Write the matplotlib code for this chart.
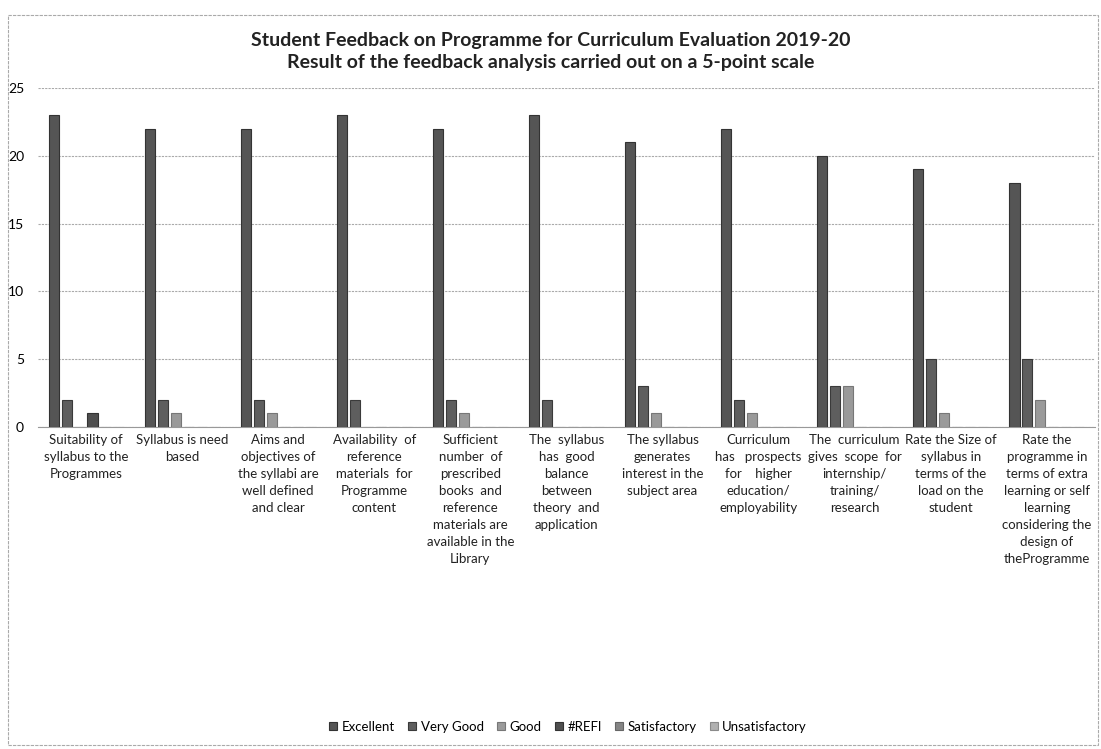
import numpy as np
import matplotlib
matplotlib.use("Agg")
import matplotlib.pyplot as plt
from matplotlib.patches import Rectangle

plt.rcParams["font.family"] = ["Lato", "DejaVu Sans"]

categories = [
    "Suitability of\nsyllabus to the\nProgrammes",
    "Syllabus is need\nbased",
    "Aims and\nobjectives of\nthe syllabi are\nwell defined\nand clear",
    "Availability  of\nreference\nmaterials  for\nProgramme\ncontent",
    "Sufficient\nnumber  of\nprescribed\nbooks  and\nreference\nmaterials are\navailable in the\nLibrary",
    "The  syllabus\nhas  good\nbalance\nbetween\ntheory  and\napplication",
    "The syllabus\ngenerates\ninterest in the\nsubject area",
    "Curriculum\nhas   prospects\nfor    higher\neducation/\nemployability",
    "The  curriculum\ngives  scope  for\ninternship/\ntraining/\nresearch",
    "Rate the Size of\nsyllabus in\nterms of the\nload on the\nstudent",
    "Rate the\nprogramme in\nterms of extra\nlearning or self\nlearning\nconsidering the\ndesign of\ntheProgramme",
]

series_names = ["Excellent", "Very Good", "Good", "#REFl", "Satisfactory", "Unsatisfactory"]
excellent = [23, 22, 22, 23, 22, 23, 21, 22, 20, 19, 18]
very_good = [2, 2, 2, 2, 2, 2, 3, 2, 3, 5, 5]
good = [0, 1, 1, 0, 1, 0, 1, 1, 3, 1, 2]
ref_err = [1, 0, 0, 0, 0, 0, 0, 0, 0, 0, 0]
satisfactory = [0] * 11
unsatisfactory = [0] * 11

values = [excellent, very_good, good, ref_err, satisfactory, unsatisfactory]
colors = ["#555555", "#5e5e5e", "#9a9a9a", "#4f4f4f", "#858585", "#b0b0b0"]
edges = ["#333333", "#3a3a3a", "#777777", "#333333", "#666666", "#8a8a8a"]

fig = plt.figure(figsize=(11.01, 7.49), dpi=100)
ax = fig.add_axes([0.0345, 0.43, 0.96, 0.4525])

x = np.arange(len(categories))
slot = 0.135
for i, (name, vals) in enumerate(zip(series_names, values)):
    ax.bar(x + (i - 2.5) * slot, vals, width=0.105, color=colors[i],
           edgecolor=edges[i], linewidth=0.8, label=name, zorder=3)

ax.set_xlim(-0.5, len(categories) - 0.5)
ax.set_ylim(0, 25)
ax.set_yticks(range(0, 26, 5))
ax.tick_params(axis="y", length=0, labelsize=10, pad=10)
ax.tick_params(axis="x", length=0)
ax.set_xticks(x)
ax.set_xticklabels(categories, fontsize=9.5, linespacing=1.5, va="top", color="#222222")
ax.tick_params(axis="x", pad=5)
ax.grid(axis="y", linestyle=(0, (2, 1)), color="#aaaaaa", linewidth=0.8, zorder=0)
for s in ["top", "right", "left"]:
    ax.spines[s].set_visible(False)
ax.spines["bottom"].set_color("#999999")
ax.spines["bottom"].set_linestyle((0, (2, 1)))

fig.text(0.5, 0.946, "Student Feedback on Programme for Curriculum Evaluation 2019-20",
         ha="center", va="center", fontsize=14, fontweight="bold", color="#222222")
fig.text(0.5, 0.916, "Result of the feedback analysis carried out on a 5-point scale",
         ha="center", va="center", fontsize=14, fontweight="bold", color="#222222")

fig.legend(loc="center", bbox_to_anchor=(0.516, 0.03), ncol=6, frameon=False,
           fontsize=9.5, handlelength=0.6, handleheight=0.6, columnspacing=1.0,
           handletextpad=0.35)

fig.patches.append(Rectangle((0.007, 0.005), 0.99, 0.975, transform=fig.transFigure,
                             fill=False, edgecolor="#aaaaaa", linewidth=0.8,
                             linestyle=(0, (3, 1))))

fig.savefig("out.png", dpi=100)
